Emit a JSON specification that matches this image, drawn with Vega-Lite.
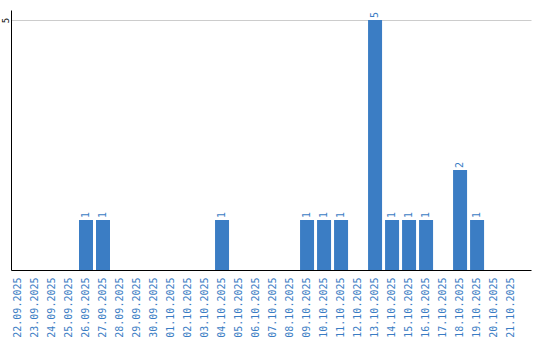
{
  "$schema": "https://vega.github.io/schema/vega-lite/v6.json",
  "autosize": "none",
  "width": 520,
  "height": 260,
  "padding": {"left": 11, "top": 10, "right": 9, "bottom": 70},
  "background": "white",
  "config": {"view": {"stroke": null}},
  "data": {
    "values": [
      {"date": "22.09.2025", "count": 0},
      {"date": "23.09.2025", "count": 0},
      {"date": "24.09.2025", "count": 0},
      {"date": "25.09.2025", "count": 0},
      {"date": "26.09.2025", "count": 1},
      {"date": "27.09.2025", "count": 1},
      {"date": "28.09.2025", "count": 0},
      {"date": "29.09.2025", "count": 0},
      {"date": "30.09.2025", "count": 0},
      {"date": "01.10.2025", "count": 0},
      {"date": "02.10.2025", "count": 0},
      {"date": "03.10.2025", "count": 0},
      {"date": "04.10.2025", "count": 1},
      {"date": "05.10.2025", "count": 0},
      {"date": "06.10.2025", "count": 0},
      {"date": "07.10.2025", "count": 0},
      {"date": "08.10.2025", "count": 0},
      {"date": "09.10.2025", "count": 1},
      {"date": "10.10.2025", "count": 1},
      {"date": "11.10.2025", "count": 1},
      {"date": "12.10.2025", "count": 0},
      {"date": "13.10.2025", "count": 5},
      {"date": "14.10.2025", "count": 1},
      {"date": "15.10.2025", "count": 1},
      {"date": "16.10.2025", "count": 1},
      {"date": "17.10.2025", "count": 0},
      {"date": "18.10.2025", "count": 2},
      {"date": "19.10.2025", "count": 1},
      {"date": "20.10.2025", "count": 0},
      {"date": "21.10.2025", "count": 0}
    ]
  },
  "encoding": {
    "x": {
      "field": "date",
      "type": "ordinal",
      "sort": null,
      "scale": {"paddingInner": 0.176, "paddingOuter": 0.38, "align": 0},
      "axis": {
        "title": null,
        "labelAngle": -90,
        "labelColor": "#3b7dc4",
        "labelFont": "DejaVu Sans Mono",
        "labelFontSize": 10,
        "labelPadding": 7,
        "ticks": false,
        "domainColor": "#000000",
        "domainWidth": 1
      }
    },
    "y": {
      "field": "count",
      "type": "quantitative",
      "scale": {"domain": [0, 5.2], "nice": false, "zero": true},
      "axis": {
        "title": null,
        "values": [5],
        "labelAngle": -90,
        "labelAlign": "center",
        "labelBaseline": "middle",
        "labelFont": "DejaVu Sans Mono",
        "labelFontSize": 9,
        "labelColor": "#000000",
        "labelPadding": 6,
        "ticks": false,
        "grid": true,
        "gridColor": "#cccccc",
        "domainColor": "#000000",
        "domainWidth": 1
      }
    }
  },
  "layer": [
    {"mark": {"type": "bar", "color": "#3b7dc4"}},
    {
      "transform": [{"filter": "datum.count > 0"}],
      "mark": {
        "type": "text",
        "angle": 270,
        "align": "left",
        "baseline": "middle",
        "dx": 2,
        "color": "#3b7dc4",
        "font": "DejaVu Sans Mono",
        "fontSize": 10
      },
      "encoding": {"text": {"field": "count", "type": "quantitative"}}
    }
  ]
}
